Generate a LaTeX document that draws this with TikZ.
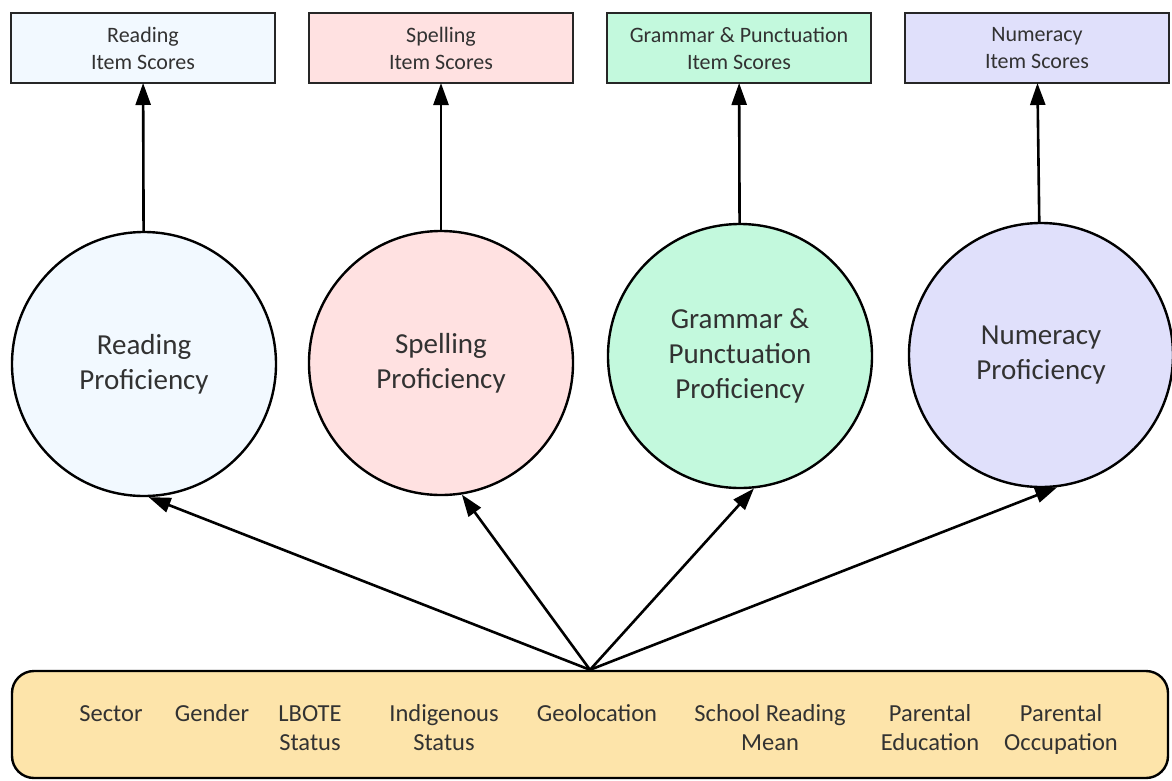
\documentclass[tikz,border=0pt]{standalone}
\usepackage{fontspec}
\setmainfont{Carlito}
\usetikzlibrary{positioning,arrows.meta}

\definecolor{readfill}{RGB}{242,249,255}
\definecolor{spellfill}{RGB}{255,225,225}
\definecolor{gramfill}{RGB}{195,249,221}
\definecolor{numfill}{RGB}{224,224,251}
\definecolor{factfill}{RGB}{253,228,170}
\definecolor{txt}{RGB}{50,50,50}

\begin{document}
\begin{tikzpicture}[
  x=1pt, y=-1pt,
  node distance=34pt,
  score/.style={draw=black!85, line width=2.6pt, minimum width=264pt, minimum height=70pt,
                inner sep=0pt, outer sep=0pt, align=center, text=txt,
                font=\fontsize{22}{27}\selectfont},
  prof/.style={draw, circle, line width=2.4pt, minimum size=264pt, inner sep=0pt,
               align=center, text=txt, font=\fontsize{29}{35}\selectfont},
  fact/.style={anchor=base, align=center, text=txt, inner sep=0pt,
               font=\fontsize{24.5}{29}\selectfont},
  arr/.style={-{Triangle[length=22pt,width=15pt]}, line width=2.6pt}
]
\useasboundingbox (0,0) rectangle (1172,780);

% item score boxes
\node[score, fill=readfill] (rscore) at (143,48) {Reading\\Item Scores};
\node[score, fill=spellfill, right=of rscore] (sscore) {Spelling\\Item Scores};
\node[score, fill=gramfill, right=of sscore] (gscore) {Grammar \& Punctuation\\Item Scores};
\node[score, fill=numfill, right=of gscore] (nscore) {Numeracy\\Item Scores};

% proficiencies
\node[prof, fill=readfill] (rprof) at (144,364) {Reading\\Proficiency};
\node[prof, fill=spellfill] (sprof) at (441,363) {Spelling\\Proficiency};
\node[prof, fill=gramfill] (gprof) at (740,356) {Grammar \&\\Punctuation\\Proficiency};
\node[prof, fill=numfill] (nprof) at (1041,355) {Numeracy\\Proficiency};

\draw[arr] (rprof) -- (rscore);
\draw[arr] (sprof) -- (sscore);
\draw[arr] (gprof) -- (gscore);
\draw[arr] (nprof) -- (nscore);

% background factors (two-line nodes sit on their last line)
\node[draw, line width=2.4pt, rounded corners=22pt, fill=factfill,
      minimum width=1156pt, minimum height=107pt] (factors) at (590,724.5) {};
\node[fact] (sector) at (111,721) {Sector};
\node[fact] (gender) at (212,721) {Gender};
\node[fact] (lbote) at (310,750) {LBOTE\\Status};
\node[fact] (indig) at (444,750) {Indigenous\\Status};
\node[fact] (geo) at (597,721) {Geolocation};
\node[fact] (school) at (770,750) {School Reading\\Mean};
\node[fact] (pedu) at (930,750) {Parental\\Education};
\node[fact] (pocc) at (1061,750) {Parental\\Occupation};

\coordinate (hub) at (factors.north);
\draw[arr] (hub) -- (rprof.272);
\draw[arr] (hub) -- (sprof.279);
\draw[arr] (hub) -- (gprof.276);
\draw[arr] (hub) -- (nprof.277);
\end{tikzpicture}
\end{document}
